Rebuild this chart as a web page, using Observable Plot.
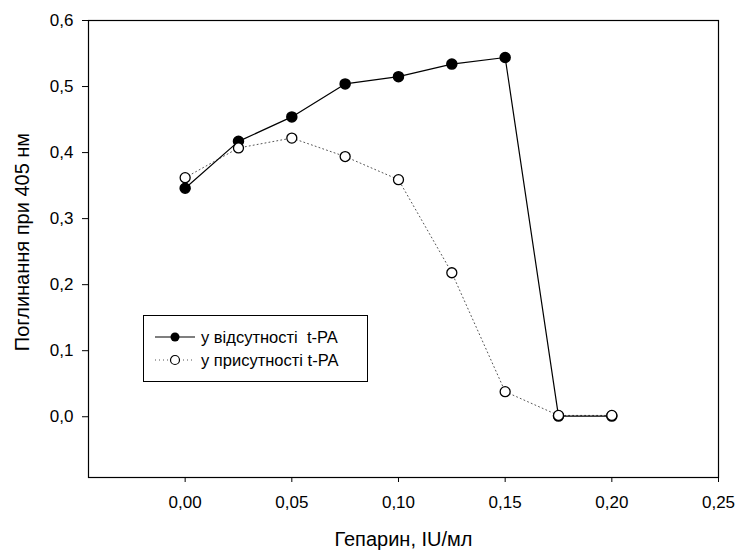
<!DOCTYPE html>
<html><head><meta charset="utf-8">
<script src="https://cdn.jsdelivr.net/npm/d3@7"></script>
<script src="https://cdn.jsdelivr.net/npm/@observablehq/plot@0.6"></script>
<style>
body{margin:0;background:#fff;font-family:"Liberation Sans",Arial,sans-serif;}
#wrap{position:relative;width:736px;height:550px;}
#legend{position:absolute;left:143px;top:315px;width:225px;height:67px;border:1px solid #000;box-sizing:border-box;background:#fff;font-size:16.5px;color:#000;}
#legend .row{position:absolute;left:10px;height:22px;display:flex;align-items:center;white-space:pre;}
#legend svg{margin-right:5px;}
</style></head>
<body><div id="wrap"></div>
<script>
const heparin = [0.000, 0.025, 0.050, 0.075, 0.100, 0.125, 0.150, 0.175, 0.200];
const absentTPA = [0.346, 0.417, 0.454, 0.504, 0.515, 0.534, 0.544, 0.001, 0.001];
const presentTPA = [0.362, 0.407, 0.422, 0.394, 0.359, 0.218, 0.038, 0.002, 0.002];
const xTicks = [0.00, 0.05, 0.10, 0.15, 0.20, 0.25];
const yTicks = [0.0, 0.1, 0.2, 0.3, 0.4, 0.5, 0.6];
const seriesNames = ["у відсутності  t-PA", "у присутності t-PA"];
const xLabel = "Гепарин, IU/мл";
const yLabel = "Поглинання при 405 нм";

const absent = heparin.map((x, i) => ({x, y: absentTPA[i]}));
const present = heparin.map((x, i) => ({x, y: presentTPA[i]}));
const comma = (d, n) => d.toFixed(n).replace(".", ",");

const chart = Plot.plot({
  width: 736, height: 550,
  marginLeft: 88, marginRight: 18, marginTop: 20, marginBottom: 73,
  style: {fontFamily: '"Liberation Sans", Arial, sans-serif', fontSize: "17px", color: "#000", background: "#fff"},
  x: {domain: [-0.0453, 0.25], label: null},
  y: {domain: [-0.092, 0.6], label: null},
  marks: [
    Plot.frame({stroke: "#000", strokeWidth: 1.2}),
    Plot.axisX({ticks: xTicks, tickFormat: d => comma(d, 2), tickSize: 5, tickPadding: 13, fontSize: 17, label: null}),
    Plot.axisY({ticks: yTicks, tickFormat: d => comma(d, 1), tickSize: 6, tickPadding: 9, fontSize: 17, label: null}),
    Plot.text([xLabel], {text: d => d, frameAnchor: "bottom", lineAnchor: "middle", textAnchor: "middle", dy: 62, fontSize: 20}),
    Plot.text([yLabel], {text: d => d, frameAnchor: "left", lineAnchor: "middle", textAnchor: "middle", rotate: -90, dx: -66, dy: -7, fontSize: 20}),
    Plot.line(present, {x: "x", y: "y", stroke: "#555", strokeWidth: 1, strokeDasharray: "1,3"}),
    Plot.line(absent, {x: "x", y: "y", stroke: "#000", strokeWidth: 1.2}),
    Plot.dot(absent, {x: "x", y: "y", r: 5, fill: "#000", stroke: "#000"}),
    Plot.dot(present, {x: "x", y: "y", r: 5, fill: "#fff", stroke: "#000", strokeWidth: 1.3})
  ]
});
const wrap = document.getElementById("wrap");
wrap.appendChild(chart);

const legend = document.createElement("div");
legend.id = "legend";
legend.innerHTML = `
<div class="row" style="top:10px"><svg width="42" height="12"><line x1="1" x2="41" y1="6" y2="6" stroke="#000" stroke-width="1.2"/><circle cx="21" cy="6" r="4.5" fill="#000"/></svg><span>${seriesNames[0]}</span></div>
<div class="row" style="top:33px"><svg width="42" height="12"><line x1="1" x2="41" y1="6" y2="6" stroke="#555" stroke-width="1" stroke-dasharray="1,3"/><circle cx="21" cy="6" r="4.5" fill="#fff" stroke="#000" stroke-width="1.2"/></svg><span>${seriesNames[1]}</span></div>`;
wrap.appendChild(legend);
</script></body></html>
